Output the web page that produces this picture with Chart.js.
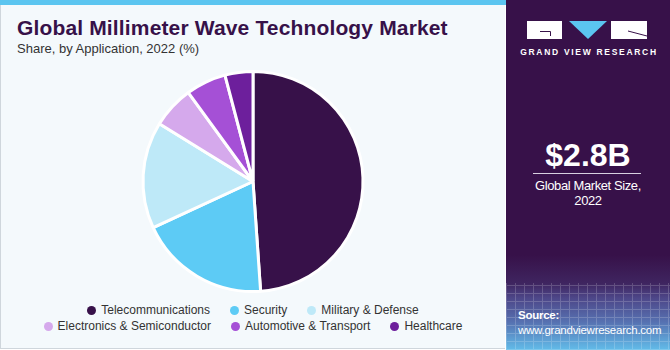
<!DOCTYPE html>
<html>
<head>
<meta charset="utf-8">
<script src="https://cdn.jsdelivr.net/npm/chart.js@4"></script>
<style>
  body { margin: 0; width: 670px; height: 350px; overflow: hidden; font-family: "Liberation Sans", Arial, sans-serif; }
  .left { position: absolute; left: 0; top: 0; width: 505px; height: 349px; background: #f4f9fc; border-left: 1px solid #cfd6dc; border-bottom: 1px solid #cfd6dc; box-sizing: border-box; }
  .topbar { position: absolute; left: 0; top: 0; width: 506px; height: 5px; background: #5bc5f0; }
  .title { position: absolute; left: 17px; top: 16px; font-size: 21px; font-weight: bold; color: #371149; letter-spacing: 0.15px; }
  .subtitle { position: absolute; left: 17px; top: 41px; font-size: 13px; color: #333; }
  .chartBox { position: absolute; left: 0; top: 0; width: 506px; height: 300px; }
  .legend { position: absolute; left: 13px; top: 304px; width: 480px; display: flex; flex-wrap: wrap; justify-content: center; column-gap: 20px; row-gap: 4px; font-size: 12px; color: #333; line-height: 12px; }
  .legend span.item { display: flex; align-items: center; white-space: nowrap; }
  .legend span.dot { display: inline-block; width: 9px; height: 9px; border-radius: 50%; margin-right: 5px; }
  .right { position: absolute; left: 506px; top: 0; width: 164px; height: 350px; background: #371149; color: #fff; overflow: hidden; }
  .fade { position: absolute; left: 0; top: 255px; width: 164px; height: 95px;
    background: linear-gradient(to bottom, rgba(55,17,73,0) 0%, #3f2560 30%, #4d4688 45%, #5670b0 70%, #62bce9 100%); }
  .grid { position: absolute; left: 0; top: 283px; width: 164px; height: 67px; opacity: 0.18;
    background-image: repeating-linear-gradient(90deg, #fff 0 1px, transparent 1px 9px), repeating-linear-gradient(0deg, #fff 0 1px, transparent 1px 8px); }
  .logo { position: absolute; left: 0; top: 0; }
  .big { position: absolute; left: 0; width: 164px; top: 137px; text-align: center; font-size: 32px; font-weight: bold; }
  .rule { position: absolute; left: 27px; width: 108px; top: 173px; height: 1px; background: #d8d0e0; }
  .size { position: absolute; left: 0; width: 164px; top: 178px; text-align: center; font-size: 13px; line-height: 15px; letter-spacing: -0.4px; }
  .brand { position: absolute; left: 1px; width: 164px; top: 47px; text-align: center; font-size: 8.5px; font-weight: bold; letter-spacing: 1.7px; }
  .source { position: absolute; left: 12px; top: 308px; font-size: 11.5px; line-height: 15px; letter-spacing: -0.25px; }
</style>
</head>
<body>
<div class="left"></div>
<div class="topbar"></div>
<div class="title">Global Millimeter Wave Technology Market</div>
<div class="subtitle">Share, by Application, 2022 (%)</div>
<div class="chartBox"><canvas id="myChart"></canvas></div>
<div class="legend" id="legend"></div>

<div class="right">
  <canvas class="logo" id="logo" width="164" height="45"></canvas>
  <div class="brand">GRAND VIEW RESEARCH</div>
  <div class="big">$2.8B</div>
  <div class="rule"></div>
  <div class="size">Global Market Size,<br>2022</div>
  <div class="fade"></div>
  <div class="grid"></div>
  <div class="source"><b>Source:</b><br>www.grandviewresearch.com</div>
</div>

<script>
const categories = ['Telecommunications', 'Security', 'Military & Defense', 'Electronics & Semiconductor', 'Automotive & Transport', 'Healthcare'];
const shares = [48.9, 19.2, 15.7, 6.2, 5.9, 4.1];
const colors = ['#371149', '#5dcbf5', '#bee9f8', '#d5a9ec', '#a550d6', '#6d1f9c'];

const ctx = document.getElementById('myChart');

new Chart(ctx, {
  type: 'pie',
  data: {
    labels: categories,
    datasets: [{
      data: shares,
      backgroundColor: colors,
      borderColor: '#ffffff',
      borderWidth: 3
    }]
  },
  options: {
    responsive: true,
    maintainAspectRatio: false,
    animation: false,
    layout: { padding: { top: 70, bottom: 7 } },
    plugins: {
      legend: { display: false },
      tooltip: { enabled: false }
    }
  }
});

// legend under the pie
const legend = document.getElementById('legend');
categories.forEach((name, i) => {
  const item = document.createElement('span');
  item.className = 'item';
  item.innerHTML = `<span class="dot" style="background:${colors[i]}"></span>${name}`;
  legend.appendChild(item);
});

// logo blocks
const lg = document.getElementById('logo').getContext('2d');
lg.fillStyle = '#ffffff';
lg.fillRect(21, 21, 35, 18);
lg.fillRect(105, 21, 36, 18);
lg.fillStyle = '#5bc5f0';
lg.beginPath();
lg.moveTo(63, 21); lg.lineTo(101, 21); lg.lineTo(82, 39); lg.closePath();
lg.fill();
lg.strokeStyle = '#371149';
lg.lineWidth = 1;
lg.beginPath();
lg.moveTo(34, 31.5); lg.lineTo(44.5, 31.5); lg.lineTo(44.5, 36);
lg.moveTo(122, 31); lg.lineTo(141, 36);
lg.stroke();
</script>
</body>
</html>
